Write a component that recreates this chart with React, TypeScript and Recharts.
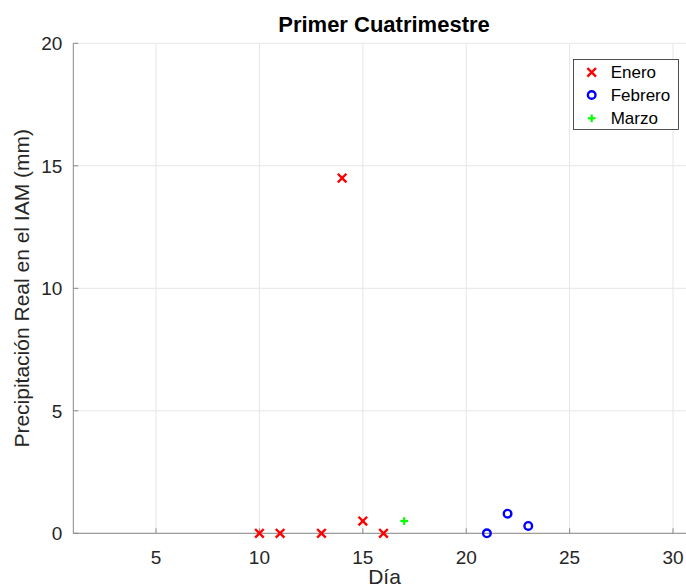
import React from "react";
import {
  ScatterChart,
  Scatter,
  XAxis,
  YAxis,
  CartesianGrid,
  Customized,
} from "recharts";

const eneroDays = [10, 11, 13, 14, 15, 16];
const eneroRain = [0, 0, 0, 14.5, 0.5, 0];
const febreroDays = [21, 22, 23];
const febreroRain = [0, 0.8, 0.3];
const marzoDays = [17];
const marzoRain = [0.5];

const xTicks = [5, 10, 15, 20, 25, 30];
const yTicks = [0, 5, 10, 15, 20];
const seriesNames = ["Enero", "Febrero", "Marzo"];

const toPoints = (xs: number[], ys: number[]) =>
  xs.map((x, i) => ({ x, y: ys[i] }));

const enero = toPoints(eneroDays, eneroRain);
const febrero = toPoints(febreroDays, febreroRain);
const marzo = toPoints(marzoDays, marzoRain);

const FONT = "'Liberation Sans', Arial, Helvetica, sans-serif";
const AXIS = "#8a8a8a";
const RED = "#ff0000";
const BLUE = "#0000ff";
const GREEN = "#00ff00";

const Cross = ({ cx, cy }: any) => {
  const s = 4.3;
  return (
    <g stroke={RED} strokeWidth={2.4} strokeLinecap="butt">
      <line x1={cx - s} y1={cy - s} x2={cx + s} y2={cy + s} />
      <line x1={cx - s} y1={cy + s} x2={cx + s} y2={cy - s} />
    </g>
  );
};

const Ring = ({ cx, cy }: any) => (
  <circle cx={cx} cy={cy} r={3.8} fill="none" stroke={BLUE} strokeWidth={2.4} />
);

const Plus = ({ cx, cy }: any) => {
  const s = 3.8;
  return (
    <g stroke={GREEN} strokeWidth={2.2}>
      <line x1={cx - s} y1={cy} x2={cx + s} y2={cy} />
      <line x1={cx} y1={cy - s} x2={cx} y2={cy + s} />
    </g>
  );
};

const Decorations = () => {
  const lx = 573.5;
  const ly = 59.5;
  const rows = [72.3, 95, 118.3];
  const shapes = [Cross, Ring, Plus];
  return (
    <g fontFamily={FONT}>
      <text
        x={384}
        y={31.5}
        textAnchor="middle"
        fontSize={22}
        fontWeight="bold"
        fill="#000"
      >
        Primer Cuatrimestre
      </text>
      <text
        transform="rotate(-90)"
        x={-288.3}
        y={28.5}
        textAnchor="middle"
        fontSize={21}
        fill="#262626"
      >
        Precipitación Real en el IAM (mm)
      </text>
      <text x={384.5} y={584} textAnchor="middle" fontSize={21} fill="#262626">
        Día
      </text>
      <rect
        x={lx}
        y={ly}
        width={105}
        height={70}
        fill="#ffffff"
        stroke="#262626"
        strokeWidth={0.8}
      />
      {rows.map((ry, i) => {
        const S = shapes[i];
        return (
          <g key={seriesNames[i]}>
            <S cx={591.7} cy={ry} />
            <text
              x={610.7}
              y={ry}
              dy="0.36em"
              fontSize={17}
              fill="#000"
            >
              {seriesNames[i]}
            </text>
          </g>
        );
      })}
    </g>
  );
};

export default function App() {
  return (
    <div
      style={{
        position: "absolute",
        left: 0,
        top: 0,
        width: 686,
        height: 588,
        overflow: "hidden",
        background: "#fff",
      }}
    >
      <ScatterChart
        width={700}
        height={588}
        margin={{ top: 43.3, right: 6.3, bottom: 0, left: 0 }}
        style={{ fontFamily: FONT }}
      >
        <CartesianGrid
          stroke="#e6e6e6"
          strokeWidth={1}
          horizontalValues={yTicks}
          verticalValues={xTicks}
        />
        <XAxis
          xAxisId="top"
          orientation="top"
          type="number"
          dataKey="x"
          domain={[1, 31]}
          ticks={xTicks}
          height={0}
          tick={false}
          tickSize={-5}
          axisLine={{ stroke: AXIS, strokeWidth: 1 }}
          tickLine={{ stroke: AXIS }}
        />
        <XAxis
          type="number"
          dataKey="x"
          domain={[1, 31]}
          ticks={xTicks}
          height={54.7}
          tickSize={-5}
          tickMargin={22}
          axisLine={{ stroke: AXIS, strokeWidth: 1 }}
          tickLine={{ stroke: AXIS }}
          tick={{ fill: "#262626", fontSize: 19, fontFamily: FONT }}
          interval={0}
        />
        <YAxis
          type="number"
          dataKey="y"
          domain={[0, 20]}
          ticks={yTicks}
          width={73.3}
          tickSize={-5}
          tickMargin={16}
          axisLine={{ stroke: AXIS, strokeWidth: 1 }}
          tickLine={{ stroke: AXIS }}
          tick={{ fill: "#262626", fontSize: 19, fontFamily: FONT }}
          interval={0}
        />
        <Scatter
          name="Enero"
          data={enero}
          shape={<Cross />}
          isAnimationActive={false}
        />
        <Scatter
          name="Febrero"
          data={febrero}
          shape={<Ring />}
          isAnimationActive={false}
        />
        <Scatter
          name="Marzo"
          data={marzo}
          shape={<Plus />}
          isAnimationActive={false}
        />
        <Customized component={Decorations} />
      </ScatterChart>
    </div>
  );
}
